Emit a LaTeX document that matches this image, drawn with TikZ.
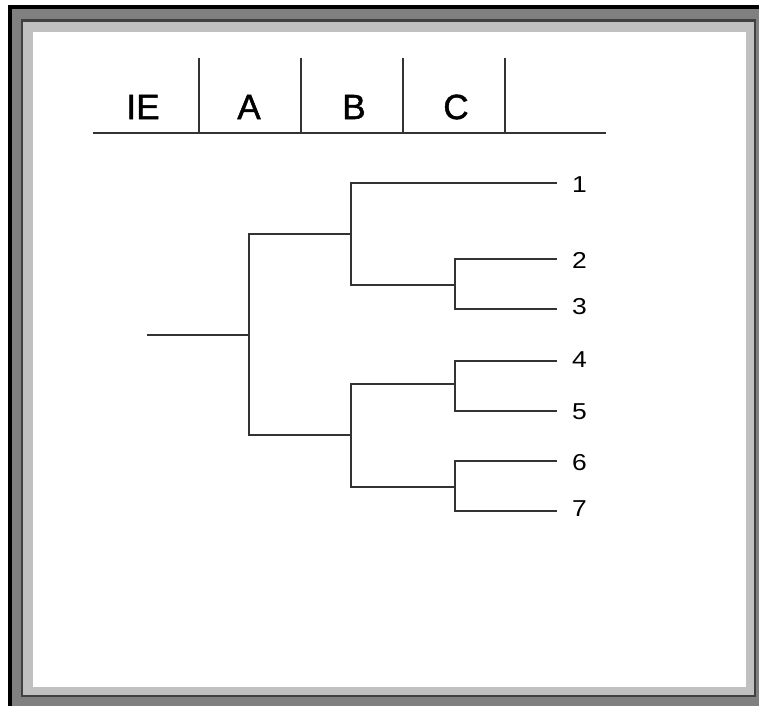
\documentclass[tikz,border=0pt]{standalone}
\usepackage{fontspec}
\setmainfont{Liberation Sans}
\newfontfamily\headfont[FakeBold=1.3]{Liberation Sans}
\newfontfamily\leaffont[FakeStretch=1.15]{Liberation Sans}
\usepackage{tikz}
\usetikzlibrary{positioning,calc}
\definecolor{rim}{HTML}{808080}
\definecolor{rimlight}{HTML}{C0C0C0}
\definecolor{rimdark}{HTML}{404040}
\definecolor{ink}{HTML}{333333}
\tikzset{
  % Column headings
  colhead/.style={inner sep=0pt,font=\headfont\fontsize{35}{35}\selectfont},
  % Leaf labels
  leaflb/.style={anchor=west,inner sep=0pt,font=\leaffont\fontsize{23}{23}\selectfont},
  % Tree branches and ruling
  br/.style={ink,line width=2pt,line cap=rect},
  rule/.style={ink,line width=2pt}
}

\begin{document}
\begin{tikzpicture}[x=1pt,y=-1pt]
  \useasboundingbox (0,0) rectangle (759,706);
  % frame
  \fill[white] (0,0) rectangle (759,706);
  \fill[black] (8,5) rectangle (759,706);
  \fill[rim] (12,9) rectangle (759,706);
  \fill[rimdark] (21,19) rectangle (756,697);
  \fill[rimlight] (23,22) rectangle (754,695);
  \fill[white] (33,32) rectangle (746,687);

  % header
  \coordinate (rule w) at (93,133);
  \coordinate (rule e) at (606,133);
  \draw[rule] (rule w) -- (rule e);
  \foreach \x/\n in {199/1,301/2,403/3,505/4} {
    \coordinate (sep\n) at (\x,58);
    \draw[rule] (sep\n) -- (sep\n |- rule w);
  }
  \node[colhead] (hIE) at (143,107) {IE};
  \node[colhead] (hA) at (249,107) {A};
  \node[colhead] (hB) at (354,107) {B};
  \node[colhead] (hC) at (456,107) {C};

  % tree
  \coordinate (start) at (148,335);
  \coordinate (r) at (249,335);
  \coordinate (u) at (351,234);
  \coordinate (d) at (351,435);
  \coordinate (v) at (455,285);
  \coordinate (w) at (455,384);
  \coordinate (x) at (455,487);
  \coordinate (l1) at (556,183);
  \coordinate (l2) at (556,259);
  \coordinate (l3) at (556,309);
  \coordinate (l4) at (556,361);
  \coordinate (l5) at (556,411);
  \coordinate (l6) at (556,461);
  \coordinate (l7) at (556,511);

  \draw[br] (start) -- (r);
  \draw[br] (u) -| (r) |- (d);
  \draw[br] (l1) -| (u) |- (v);
  \draw[br] (w) -| (d) |- (x);
  \draw[br] (l2) -| (v) |- (l3);
  \draw[br] (l4) -| (w) |- (l5);
  \draw[br] (l6) -| (x) |- (l7);

  \foreach \i/\dy in {1/2,2/1,3/-2,4/-1,5/1,6/2,7/-2} {
    \node[leaflb] (n\i) at ($(l\i)+(16,\dy)$) {\i};
  }
\end{tikzpicture}
\end{document}
